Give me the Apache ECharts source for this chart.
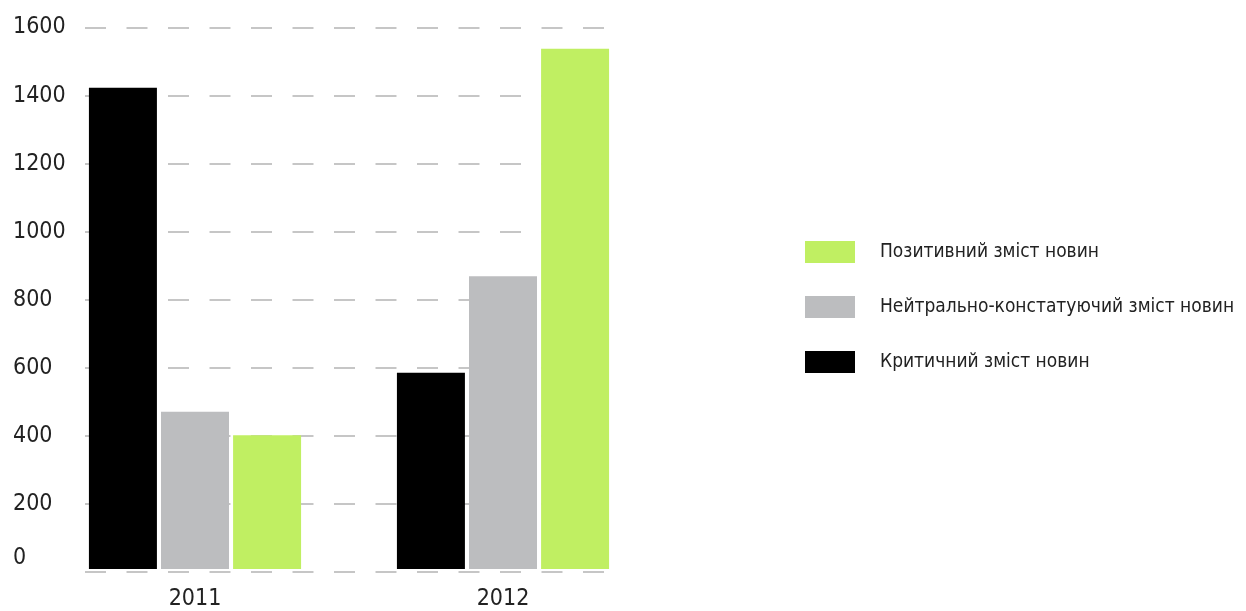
<!DOCTYPE html>
<html>
<head>
<meta charset="utf-8">
<script src="https://cdn.jsdelivr.net/npm/echarts@6/dist/echarts.min.js"></script>
<style>
  html, body { margin: 0; padding: 0; background: #fff; }
  #chartData { width: 1246px; height: 611px; }
</style>
</head>
<body>
<div id="chartData"></div>
<script>
// дані
var years = ['2011', '2012'];
var critical = [1422, 580];
var neutral = [465, 865];
var positive = [395, 1537];
var yTicks = [0, 200, 400, 600, 800, 1000, 1200, 1400, 1600];

var seriesNames = ['Критичний зміст новин', 'Нейтрально-констатуючий зміст новин', 'Позитивний зміст новин'];
var fontName = '"Liberation Sans Narrow", "DejaVu Sans Condensed", sans-serif';

var myChart = echarts.init(document.getElementById('chartData'));

var option = {
    animation: false,
    textStyle: { fontFamily: fontName },
    grid: [
        // сітка для стовпчиків
        { left: 41, right: 589, top: 27.5, bottom: 39 },
        // сітка лише для пунктирних ліній
        { left: 85, right: 636, top: 27.5, bottom: 39 }
    ],
    legend: {
        orient: 'vertical',
        left: 805,
        top: 241,
        padding: 0,
        itemWidth: 50,
        itemHeight: 22,
        itemGap: 33,
        icon: 'rect',
        data: [seriesNames[2], seriesNames[1], seriesNames[0]],
        textStyle: {
            fontFamily: fontName,
            fontSize: 19,
            color: '#222',
            padding: [0, 0, 0, 20]
        }
    },
    xAxis: [{
        type: 'category',
        gridIndex: 0,
        data: years,
        axisLine: { show: false },
        axisTick: { show: false },
        axisLabel: { fontSize: 23, color: '#222', margin: 19, fontFamily: fontName }
    }, {
        type: 'value',
        gridIndex: 1,
        show: false
    }],
    yAxis: [{
        type: 'value',
        gridIndex: 0,
        min: yTicks[0],
        max: yTicks[yTicks.length - 1],
        interval: 200,
        axisLine: { show: false },
        axisTick: { show: false },
        splitLine: { show: false },
        axisLabel: { show: false }
    }, {
        type: 'value',
        gridIndex: 1,
        min: yTicks[0],
        max: yTicks[yTicks.length - 1],
        interval: 200,
        axisLine: { show: false },
        axisTick: { show: false },
        axisLabel: {
            fontSize: 23,
            color: '#222',
            fontFamily: fontName,
            align: 'left',
            margin: 72,
            verticalAlign: 'middle',
            formatter: function (v) {
                return v === 0 ? '{z|0}' : String(v);
            },
            rich: {
                z: { fontSize: 23, color: '#222', fontFamily: fontName, padding: [0, 0, 28, 0] }
            }
        },
        splitLine: {
            show: true,
            lineStyle: { color: '#b4b4b4', width: 1.5, type: [21, 20.5] }
        }
    }],
    series: [{
        name: seriesNames[0],
        type: 'bar',
        xAxisIndex: 0,
        yAxisIndex: 0,
        barWidth: 68,
        barGap: '6%',
        itemStyle: { color: '#000000' },
        data: critical
    }, {
        name: seriesNames[1],
        type: 'bar',
        xAxisIndex: 0,
        yAxisIndex: 0,
        barWidth: 68,
        barGap: '6%',
        itemStyle: { color: '#bcbdbf' },
        data: neutral
    }, {
        name: seriesNames[2],
        type: 'bar',
        xAxisIndex: 0,
        yAxisIndex: 0,
        barWidth: 68,
        barGap: '6%',
        itemStyle: { color: '#c0ef62' },
        data: positive
    }]
};

myChart.setOption(option);
</script>
</body>
</html>
